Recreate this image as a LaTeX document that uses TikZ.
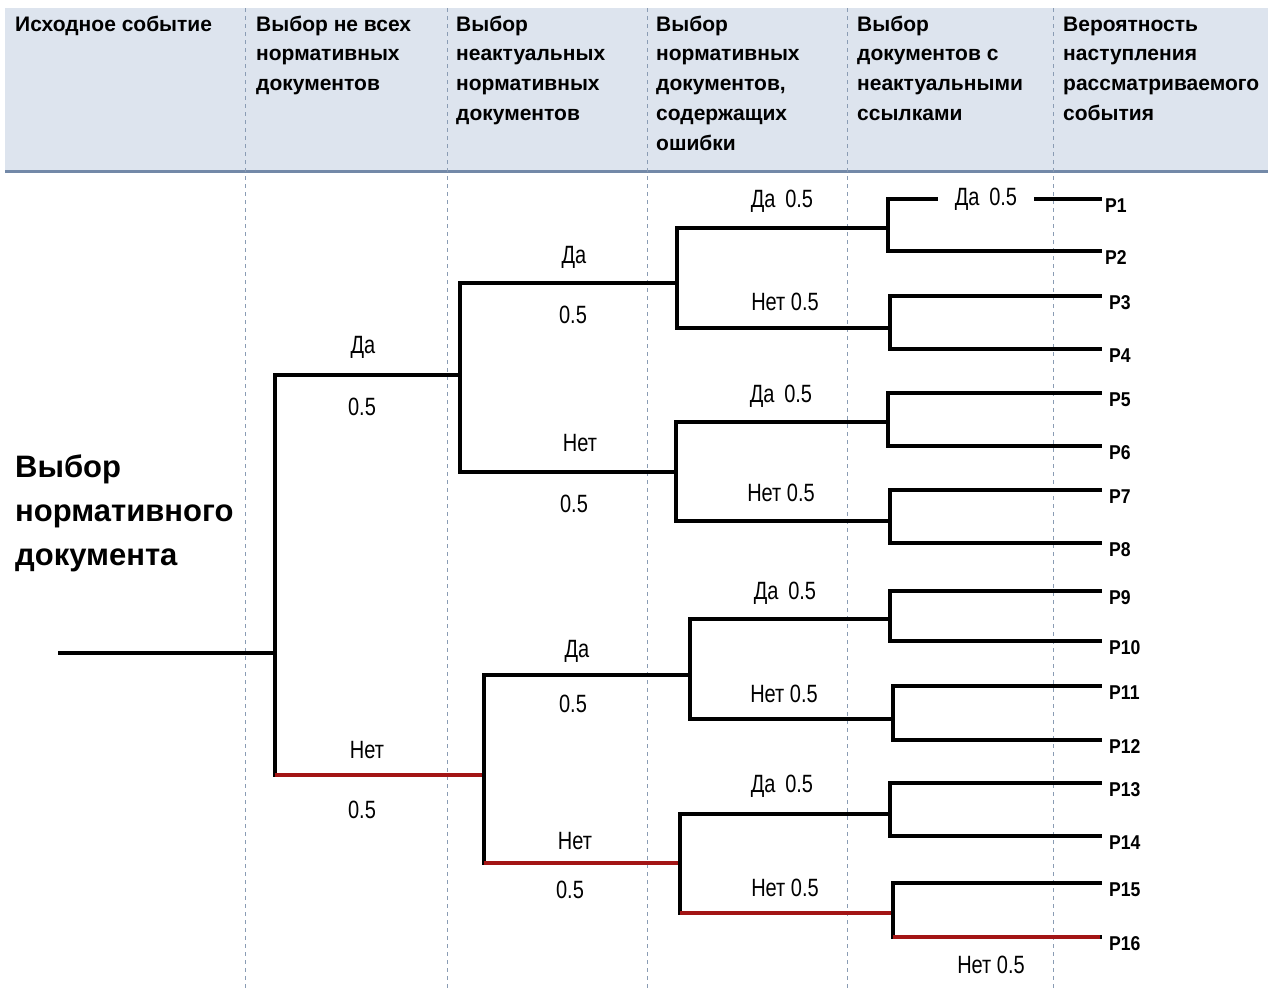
\documentclass[tikz,border=0pt]{standalone}
\usepackage{fontspec}
\setmainfont{Liberation Sans}
\newfontfamily\narrowfam[FakeStretch=0.8]{Liberation Sans}
\newfontfamily\leaffam[FakeStretch=0.88]{Liberation Sans}
\newcommand\hdrfont{\fontsize{21}{29.8}\selectfont\bfseries}
\newcommand\lblfont{\narrowfam\fontsize{25}{30}\selectfont}
\newcommand\leaffont{\leaffam\fontsize{20}{22}\selectfont\bfseries}
\newcommand\bigfont{\fontsize{31}{44}\selectfont\bfseries}
\definecolor{hdrbg}{HTML}{DDE4EE}
\definecolor{hdrline}{HTML}{7389A8}
\definecolor{brred}{HTML}{A31515}
\definecolor{gridc}{HTML}{8A9CB4}
\begin{document}
\begin{tikzpicture}[x=1pt,y=-1pt,
  branch/.style={line width=3.8pt,black,line cap=rect},
  redbr/.style={line width=3.8pt,brred},
  gridline/.style={line width=0.9pt,gridc,dash pattern=on 4pt off 4pt},
  hdr/.style={font=\hdrfont,anchor=north west,align=left,inner sep=0pt},
  lbl/.style={font=\lblfont,inner sep=0pt},
  leaf/.style={font=\leaffont,anchor=west,inner sep=0pt}]
\useasboundingbox (0,0) rectangle (1271,989);

% header band
\fill[hdrbg] (5,8) rectangle (1268,170);
\draw[hdrline,line width=3pt] (5,171) -- (1268,171);

% column separators
\foreach \x in {245,447,647,847,1053}
  \draw[gridline] (\x,8) -- (\x,989);

% column headings
\node[hdr] (h1) at (15,15.5) {Исходное событие};
\node[hdr] (h2) at (256,15.5) {Выбор не всех\\нормативных\\документов};
\node[hdr] (h3) at (456,15.5) {Выбор\\неактуальных\\нормативных\\документов};
\node[hdr] (h4) at (656,15.5) {Выбор\\нормативных\\документов,\\содержащих\\ошибки};
\node[hdr] (h5) at (857,15.5) {Выбор\\документов с\\неактуальными\\ссылками};
\node[hdr] (h6) at (1063,16.5) {Вероятность\\наступления\\рассматриваемого\\события};

% initial event
\node[font=\bigfont,anchor=north west,align=left,inner sep=0pt] (ev) at (15,455)
  {Выбор\\нормативного\\документа};

% branch points
\coordinate (r0) at (60,653);
\coordinate (b0) at (275,653);
\coordinate (b1) at (460,375);
\coordinate (b2) at (484,775);
\coordinate (b11) at (677,283);
\coordinate (b12) at (676,472);
\coordinate (b21) at (690,675);
\coordinate (b22) at (680,863);
\coordinate (c111) at (888,228);
\coordinate (c112) at (890,328);
\coordinate (c121) at (888,422);
\coordinate (c122) at (890,521);
\coordinate (c211) at (890,619);
\coordinate (c212) at (893,719);
\coordinate (c221) at (890,814);
\coordinate (c222) at (893,913);

% leaf ends
\foreach \i/\y/\dx in {1/199/0,2/251/0,3/296/4,4/349/4,5/393/4,6/446/4,7/490/4,8/543/4,
                   9/591/4,10/641/4,11/686/4,12/740/4,13/783/4,14/836/4,15/883/4,16/937/4}{
  \coordinate (l\i) at (1100,\y);
  \node[leaf] (p\i) at (1105+\dx,\y+7) {P\i};
}

% level 1
\draw[branch] (r0) -- (b0);
\draw[branch] (b0) |- (b1);
\draw[branch] (b0) |- (b2);
\draw[redbr] (b0 |- b2) -- (b2);

% level 2
\draw[branch] (b1) |- (b11);
\draw[branch] (b1) |- (b12);
\draw[branch] (b2) |- (b21);
\draw[branch] (b2) |- (b22);
\draw[redbr] (b2 |- b22) -- (b22);

% level 3
\draw[branch] (b11) |- (c111);
\draw[branch] (b11) |- (c112);
\draw[branch] (b12) |- (c121);
\draw[branch] (b12) |- (c122);
\draw[branch] (b21) |- (c211);
\draw[branch] (b21) |- (c212);
\draw[branch] (b22) |- (c221);
\draw[branch] (b22) |- (c222);
\draw[redbr] (b22 |- c222) -- (c222);

% level 4
\node[lbl,inner xsep=19pt] (t4a) at (986,199) {Да\, 0.5};
\draw[branch] (c111) |- (t4a.west);
\draw[branch] (t4a.east) -- (l1);
\draw[branch] (c111) |- (l2);
\draw[branch] (c112) |- (l3);
\draw[branch] (c112) |- (l4);
\draw[branch] (c121) |- (l5);
\draw[branch] (c121) |- (l6);
\draw[branch] (c122) |- (l7);
\draw[branch] (c122) |- (l8);
\draw[branch] (c211) |- (l9);
\draw[branch] (c211) |- (l10);
\draw[branch] (c212) |- (l11);
\draw[branch] (c212) |- (l12);
\draw[branch] (c221) |- (l13);
\draw[branch] (c221) |- (l14);
\draw[branch] (c222) |- (l15);
\draw[branch] (c222) |- (l16);
\draw[redbr] (c222 |- l16) -- (l16);
\node[lbl] (t4b) at (991,965) {Нет 0.5};

% level 1 labels
\node[lbl] (y1) at (363,347) {Да};
\node[lbl] (y1p) at (362,407) {0.5};
\node[lbl] (n1) at (367,750) {Нет};
\node[lbl] (n1p) at (362,810) {0.5};

% level 2 labels
\node[lbl] (y11) at (574,257) {Да};
\node[lbl] (y11p) at (573,315) {0.5};
\node[lbl] (n12) at (580,443) {Нет};
\node[lbl] (n12p) at (574,504) {0.5};
\node[lbl] (y21) at (577,651) {Да};
\node[lbl] (y21p) at (573,704) {0.5};
\node[lbl] (n22) at (575,841) {Нет};
\node[lbl] (n22p) at (570,890) {0.5};

% level 3 labels
\node[lbl] (t3a) at (782,201) {Да\, 0.5};
\node[lbl] (t3b) at (785,302) {Нет 0.5};
\node[lbl] (t3c) at (781,396) {Да\, 0.5};
\node[lbl] (t3d) at (781,493) {Нет 0.5};
\node[lbl] (t3e) at (785,593) {Да\, 0.5};
\node[lbl] (t3f) at (784,694) {Нет 0.5};
\node[lbl] (t3g) at (782,786) {Да\, 0.5};
\node[lbl] (t3h) at (785,888) {Нет 0.5};
\end{tikzpicture}
\end{document}
